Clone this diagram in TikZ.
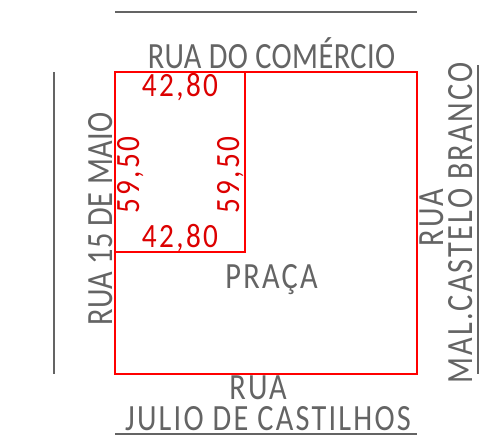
\documentclass[tikz,border=0pt]{standalone}
\usepackage{fontspec}
\setmainfont{Carlito}[LetterSpace=6,FakeStretch=0.82]
\newfontfamily\tightfont{Carlito}[LetterSpace=1.2,FakeStretch=0.82]
\newfontfamily\digitfont{Carlito}[LetterSpace=7,FakeStretch=0.86]
\definecolor{linegray}{RGB}{100,100,100}
\definecolor{lotred}{RGB}{220,0,0}
\begin{document}
\begin{tikzpicture}[x=1pt,y=-1pt,
    street/.style={draw=linegray, line width=1.2pt},
    lot/.style={draw=red, line width=1.3pt},
    streetname/.style={text=linegray, inner sep=0pt, anchor=base, font=\fontsize{37}{37}\selectfont},
    measure/.style={text=lotred, inner sep=0pt, anchor=base, font=\digitfont\fontsize{34}{34}\selectfont}
]
    \useasboundingbox (0,0) rectangle (496,445);
    % streets
    \draw[street] (115,12) -- (417,12);
    \draw[street] (115,434) -- (417,434);
    \draw[street] (54,72) -- (54,374);
    \draw[street] (478,65) -- (478,374);
    % lots
    \draw[lot] (115,72) rectangle (417,374);
    \draw[lot] (115,72) rectangle (245,252);
    % street names
    \node[streetname] (comercio) at (271.5,68) {\tightfont RUA DO COMÉRCIO};
    \node[streetname] (maio) at (112,219) [rotate=90] {\tightfont RUA 15 DE MAIO};
    \node[streetname] (rua) at (443,218) [rotate=90] {RUA};
    \node[streetname] (castelo) at (472,223) [rotate=90] {MAL.CASTELO BRANCO};
    \node[streetname] (praca) at (271.5,288) {PRAÇA};
    \node[streetname] (ruab) at (258,399) {RUA};
    \node[streetname] (julio) at (268,430) {JULIO DE CASTILHOS};
    % measures
    \node[measure] (top) at (180,96) {42,80};
    \node[measure] (bottom) at (180,247) {42,80};
    \node[measure] (left) at (139,175) [rotate=90] {59,50};
    \node[measure] (right) at (239,175) [rotate=90] {59,50};
\end{tikzpicture}
\end{document}
